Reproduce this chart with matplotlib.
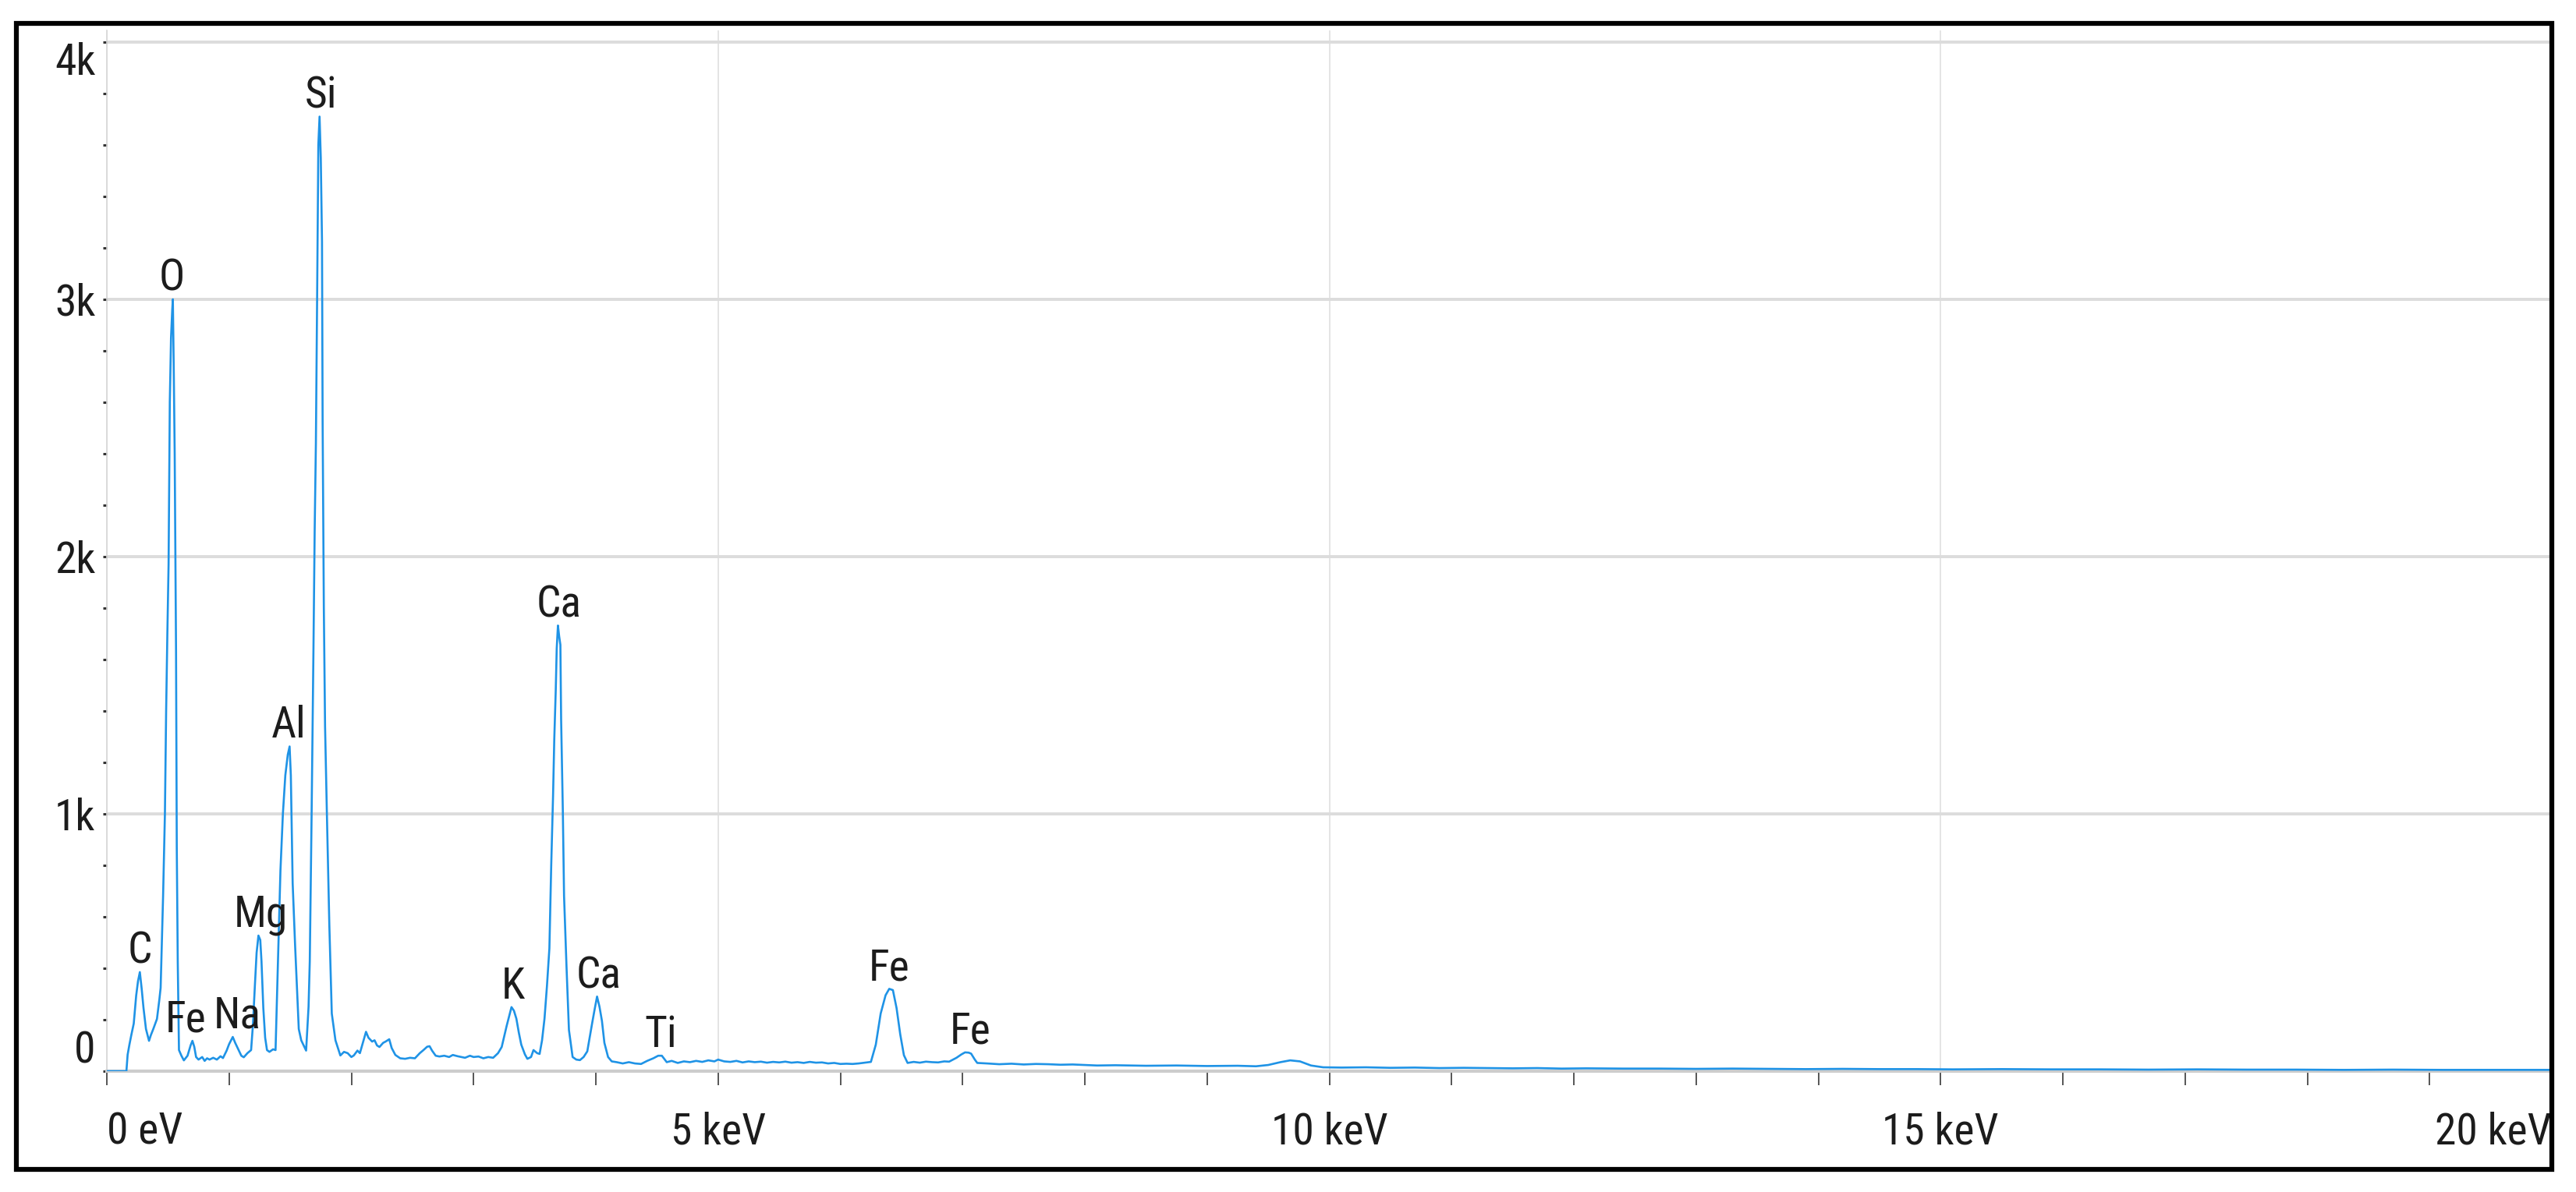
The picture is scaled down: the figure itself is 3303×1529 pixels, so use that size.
import matplotlib
matplotlib.use("Agg")
import matplotlib.pyplot as plt
from matplotlib import font_manager
from matplotlib.patches import Rectangle
from matplotlib.ticker import MultipleLocator

# EDS spectrum (energy in keV, counts)
energy_kev = [
    0.00, 0.10, 0.16, 0.17, 0.185, 0.20, 0.22, 0.24, 0.255, 0.27, 0.285, 0.30, 0.32, 0.345, 0.36,
    0.38, 0.41, 0.43, 0.44, 0.46, 0.475, 0.485, 0.495, 0.505, 0.515, 0.525, 0.535, 0.54, 0.548,
    0.555, 0.566, 0.572, 0.58, 0.59, 0.61, 0.63, 0.66, 0.685, 0.70, 0.715, 0.73, 0.75, 0.78, 0.80,
    0.82, 0.84, 0.87, 0.90, 0.93, 0.95, 0.98, 1.00, 1.03, 1.05, 1.07, 1.10, 1.12, 1.15, 1.18,
    1.195, 1.21, 1.225, 1.24, 1.255, 1.265, 1.28, 1.295, 1.31, 1.33, 1.36, 1.38, 1.40, 1.42, 1.44,
    1.46, 1.48, 1.495, 1.505, 1.52, 1.54, 1.57, 1.59, 1.61, 1.63, 1.65, 1.66, 1.675, 1.69, 1.70,
    1.71, 1.72, 1.73, 1.74, 1.75, 1.76, 1.765, 1.775, 1.785, 1.80, 1.82, 1.84, 1.87, 1.91, 1.94,
    1.97, 2.00, 2.02, 2.05, 2.07, 2.10, 2.12, 2.14, 2.17, 2.19, 2.21, 2.23, 2.26, 2.28, 2.31,
    2.33, 2.36, 2.40, 2.44, 2.48, 2.52, 2.56, 2.59, 2.62, 2.64, 2.66, 2.69, 2.72, 2.76, 2.80,
    2.83, 2.87, 2.90, 2.93, 2.97, 3.00, 3.04, 3.08, 3.12, 3.16, 3.20, 3.23, 3.27, 3.31, 3.33,
    3.35, 3.37, 3.39, 3.42, 3.44, 3.47, 3.49, 3.52, 3.54, 3.56, 3.58, 3.60, 3.62, 3.635, 3.65,
    3.66, 3.672, 3.68, 3.69, 3.70, 3.71, 3.716, 3.73, 3.74, 3.76, 3.78, 3.81, 3.84, 3.87, 3.90,
    3.93, 3.97, 3.99, 4.01, 4.03, 4.05, 4.07, 4.10, 4.13, 4.17, 4.22, 4.27, 4.32, 4.37, 4.42,
    4.47, 4.51, 4.54, 4.58, 4.62, 4.67, 4.72, 4.77, 4.82, 4.87, 4.92, 4.97, 5.00, 5.05, 5.10,
    5.15, 5.20, 5.25, 5.30, 5.35, 5.40, 5.45, 5.50, 5.55, 5.60, 5.65, 5.70, 5.75, 5.80, 5.85,
    5.90, 5.95, 6.00, 6.05, 6.10, 6.15, 6.20, 6.25, 6.29, 6.33, 6.37, 6.40, 6.43, 6.46, 6.49,
    6.52, 6.55, 6.60, 6.65, 6.70, 6.75, 6.80, 6.85, 6.89, 6.95, 6.99, 7.02, 7.05, 7.07, 7.10,
    7.12, 7.20, 7.30, 7.40, 7.50, 7.60, 7.70, 7.80, 7.90, 8.00, 8.10, 8.25, 8.50, 8.75, 9.00,
    9.25, 9.40, 9.50, 9.60, 9.68, 9.76, 9.85, 9.95, 10.1, 10.3, 10.5, 10.7, 10.9, 11.1, 11.3,
    11.5, 11.7, 11.9, 12.1, 12.4, 12.7, 13.0, 13.3, 13.6, 13.9, 14.2, 14.5, 14.8, 15.1, 15.5,
    15.9, 16.3, 16.7, 17.1, 17.5, 17.9, 18.3, 18.7, 19.1, 19.5, 20.0,
]
counts = [
    0, 0, 0, 64, 104, 140, 185, 294, 350, 385, 320, 245, 164, 118, 140,
    164, 203, 280, 324, 679, 1000, 1400, 1700, 1970, 2600, 2850, 2960, 3000, 2700,
    2400, 1635, 870, 427, 82, 60, 42, 60, 100, 118, 95, 55, 45, 55, 40,
    50, 45, 52, 45, 58, 51, 80, 105, 133, 110, 90, 60, 54, 70, 82,
    180, 324, 460, 527, 510, 427, 245, 130, 82, 75, 85, 82, 427, 779, 1000,
    1150, 1230, 1262, 1150, 730, 488, 164, 120, 100, 80, 250, 427, 1000, 1635, 2100,
    2440, 3000, 3600, 3710, 3550, 3225, 2530, 1800, 1340, 1000, 567, 224, 120, 61, 75,
    70, 55, 61, 80, 70, 120, 153, 130, 115, 120, 100, 94, 110, 115, 124,
    90, 63, 50, 48, 52, 50, 70, 82, 95, 97, 80, 60, 57, 60, 55,
    63, 58, 55, 52, 60, 55, 57, 50, 55, 52, 70, 94, 175, 249, 235,
    204, 150, 103, 65, 48, 55, 82, 70, 67, 120, 204, 330, 477, 800, 1070,
    1290, 1480, 1643, 1732, 1690, 1657, 1368, 1011, 681, 407, 160, 55, 45, 43, 55,
    77, 187, 240, 290, 250, 195, 110, 55, 38, 35, 30, 35, 30, 28, 40,
    50, 60, 60, 35, 40, 32, 38, 35, 40, 36, 42, 38, 45, 38, 36,
    40, 34, 38, 35, 37, 33, 36, 34, 37, 33, 35, 32, 36, 33, 34,
    30, 32, 28, 29, 28, 30, 33, 36, 103, 224, 295, 320, 315, 245, 143,
    62, 32, 36, 33, 37, 35, 34, 38, 37, 52, 65, 73, 72, 68, 45,
    32, 30, 27, 29, 26, 28, 27, 25, 26, 24, 22, 23, 21, 22, 20,
    21, 19, 24, 35, 42, 38, 22, 15, 14, 15, 13, 14, 12, 13, 12,
    11, 12, 10, 11, 10, 10, 9, 10, 9, 8, 9, 8, 8, 7, 8,
    7, 7, 6, 7, 6, 6, 5, 6, 5, 5, 5,
]

# peak labels: element, line energy (keV), peak height (counts)
peak_names = ["C", "O", "Fe", "Na", "Mg", "Al", "Si", "K", "Ca", "Ca", "Ti", "Fe", "Fe"]
peak_kev = [0.27, 0.53, 0.70, 1.02, 1.256, 1.49, 1.75, 3.32, 3.70, 4.02, 4.53, 6.40, 7.06]
peak_counts = [385, 3000, 118, 133, 527, 1262, 3710, 249, 1732, 290, 60, 320, 73]

x_ticks = [0, 5, 10, 15, 20]
x_tick_labels = ["0 eV", "5 keV", "10 keV", "15 keV", "20 keV"]
y_ticks = [0, 1000, 2000, 3000, 4000]
y_tick_labels = ["0", "1k", "2k", "3k", "4k"]

# pick a narrow face if one is installed, the reference text is very condensed
installed = {f.name for f in font_manager.fontManager.ttflist}
family = "DejaVu Sans"
for cand in ["Roboto Condensed", "Liberation Sans Narrow", "Open Sans Condensed",
             "DejaVu Sans Condensed", "Open Sans"]:
    if cand in installed:
        family = cand
        break
plt.rcParams["font.family"] = [family, "DejaVu Sans"]

W, H = 3303, 1529
fig = plt.figure(figsize=(W / 100, H / 100), dpi=100)
ax = fig.add_axes([137 / W, 155 / H, (3272 - 137) / W, (1490 - 155) / H])

ax.plot(energy_kev, counts, color="#1f93e6", lw=1.9, zorder=3)

# the Fe-L and Na labels sit close together, push them apart a little
nudge = {2: -6, 3: 5}
for i, (name, e, c) in enumerate(zip(peak_names, peak_kev, peak_counts)):
    ax.annotate(name, (e, c), xytext=(nudge.get(i, 0), 8), textcoords="offset points",
                ha="center", va="baseline", fontsize=40, color="#1c1c1c", zorder=4)

ax.set_xlim(0, 20)
ax.set_ylim(0, 4045)

ax.set_xticks(x_ticks)
ax.set_xticklabels(x_tick_labels)
ax.xaxis.set_minor_locator(MultipleLocator(1))
ax.set_yticks(y_ticks)
ax.set_yticklabels(y_tick_labels)
ax.yaxis.set_minor_locator(MultipleLocator(200))

ax.tick_params(axis="x", which="both", direction="out", length=13, width=1.4,
               color="#555555", labelsize=40, pad=24, labelcolor="#1c1c1c")
ax.tick_params(axis="y", which="both", direction="out", length=3.5, width=2.2,
               color="#333333", labelsize=40, pad=7, labelcolor="#1c1c1c")

xl = ax.get_xticklabels()
xl[0].set_horizontalalignment("left")
xl[-1].set_horizontalalignment("right")
yl = ax.get_yticklabels()
yl[0].set_verticalalignment("bottom")
yl[-1].set_verticalalignment("top")

ax.set_axisbelow(True)
ax.grid(axis="y", which="major", color="#dcdcdc", lw=2.8)
ax.grid(axis="x", which="major", color="#e2e2e2", lw=1.3)

for side in ["top", "right"]:
    ax.spines[side].set_visible(False)
ax.spines["left"].set_color("#d6d6d6")
ax.spines["left"].set_linewidth(1.2)
ax.spines["bottom"].set_color("#cdcdcd")
ax.spines["bottom"].set_linewidth(3.0)

# black frame around the whole picture
frame = Rectangle((21 / W, 29 / H), (3272 - 21) / W, (1499 - 29) / H,
                  transform=fig.transFigure, fill=False, edgecolor="black",
                  lw=4.5, zorder=10)
fig.add_artist(frame)

fig.savefig("out.png", dpi=100, facecolor="white")
